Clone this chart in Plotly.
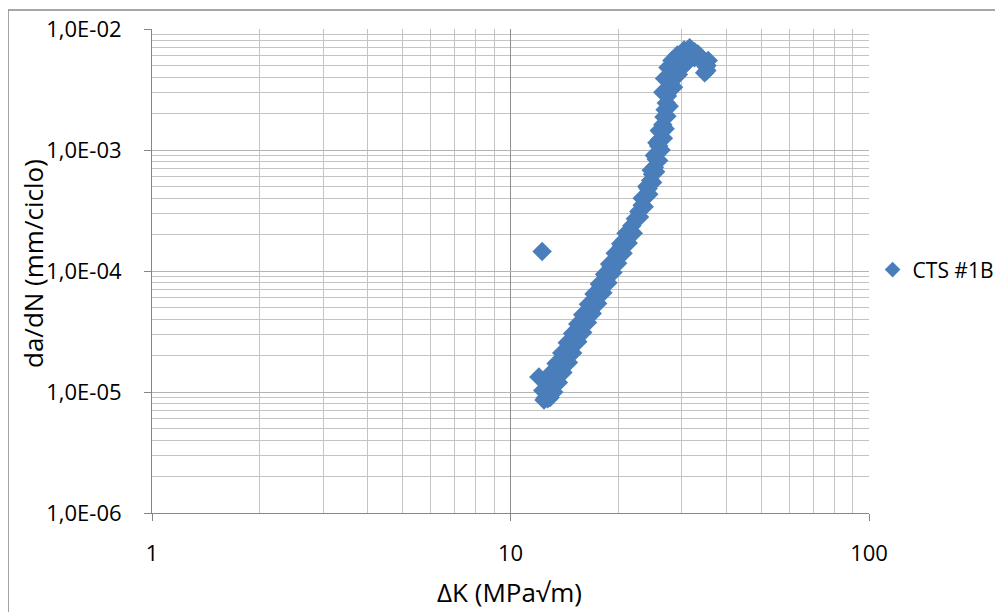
import plotly.graph_objects as go

# ---- data ----
delta_k_a = [12.5, 12.7, 12.9, 13.1, 13.3, 13.5, 13.8, 14.0, 14.3, 14.6, 14.9, 15.2, 15.5, 15.8,
             16.1, 16.4, 16.8, 17.1, 17.5, 17.9, 18.3, 18.7, 19.1, 19.5, 20.0, 20.4, 20.8, 21.3, 21.8]
dadn_a = [8.9e-6, 9.8e-6, 1.07e-5, 1.17e-5, 1.29e-5, 1.40e-5, 1.60e-5, 1.74e-5, 1.97e-5, 2.23e-5,
          2.51e-5, 2.82e-5, 3.17e-5, 3.55e-5, 3.97e-5, 4.43e-5, 5.10e-5, 5.66e-5, 6.49e-5, 7.41e-5,
          8.45e-5, 9.6e-5, 1.09e-4, 1.23e-4, 1.43e-4, 1.60e-4, 1.80e-4, 2.07e-4, 2.37e-4]

delta_k_b = [12.9, 13.2, 13.6, 14.0, 14.5, 14.9, 15.4, 15.9, 16.4, 16.9, 17.5, 18.1, 18.7, 19.3,
             19.9, 20.6, 21.3, 22.0]
dadn_b = [9.0e-6, 1.0e-5, 1.2e-5, 1.45e-5, 1.75e-5, 2.1e-5, 2.6e-5, 3.1e-5, 3.75e-5, 4.45e-5,
          5.4e-5, 6.6e-5, 8.0e-5, 9.7e-5, 1.16e-4, 1.4e-4, 1.7e-4, 2.05e-4]

delta_k_c = [12.3, 12.6, 13.0, 13.4, 13.9, 14.4, 14.9, 15.4, 15.9, 16.5, 17.1, 17.7, 18.3, 18.9,
             19.6, 20.3, 21.0]
dadn_c = [1.03e-5, 1.2e-5, 1.45e-5, 1.72e-5, 2.1e-5, 2.55e-5, 3.05e-5, 3.65e-5, 4.35e-5, 5.3e-5,
          6.45e-5, 7.8e-5, 9.4e-5, 1.14e-4, 1.4e-4, 1.68e-4, 2.05e-4]

delta_k_d = [22.3, 22.8, 23.3, 23.8, 24.2, 24.6, 24.9, 25.2, 25.5, 25.7, 25.9, 26.1, 26.3, 26.6,
             26.8, 27.0, 27.2, 27.4, 27.6, 27.9, 28.2, 28.6, 29.1, 29.7, 30.4, 31.2, 31.9, 32.6,
             33.3, 34.0, 34.6, 35.1, 35.3]
dadn_d = [2.7e-4, 3.1e-4, 3.5e-4, 4.1e-4, 4.8e-4, 5.6e-4, 6.3e-4, 7.2e-4, 8.4e-4, 9.5e-4, 1.08e-3,
          1.22e-3, 1.40e-3, 1.62e-3, 1.87e-3, 2.15e-3, 2.45e-3, 2.8e-3, 3.2e-3, 3.6e-3, 4.05e-3,
          4.5e-3, 5.0e-3, 5.5e-3, 5.9e-3, 6.3e-3, 6.6e-3, 6.5e-3, 6.2e-3, 5.8e-3, 5.35e-3, 4.9e-3,
          4.55e-3]

delta_k_e = [22.9, 23.6, 24.3, 24.9, 25.4, 25.9, 26.3, 26.7, 27.0, 27.3, 27.7, 28.5, 29.4, 30.5,
             31.5, 32.6, 33.6, 34.5, 35.3, 26.6, 26.9, 27.5, 28.2, 29.2, 30.5, 31.6, 33.8, 35.6, 34.8,
             23.3, 24.0, 24.7, 25.2, 25.6, 26.0]
dadn_e = [2.8e-4, 3.4e-4, 4.3e-4, 5.4e-4, 6.6e-4, 8.2e-4, 1.0e-3, 1.25e-3, 1.5e-3, 1.9e-3, 2.3e-3,
          3.3e-3, 4.2e-3, 5.0e-3, 5.6e-3, 5.8e-3, 5.7e-3, 5.4e-3, 5.0e-3, 3.0e-3, 3.9e-3, 4.8e-3,
          5.5e-3, 6.1e-3, 6.7e-3, 7.0e-3, 5.9e-3, 5.5e-3, 4.35e-3,
          4.0e-4, 5.0e-4, 6.8e-4, 9.0e-4, 1.15e-3, 1.45e-3]

delta_k_extra = [12.25, 12.0, 12.4, 12.7]
dadn_extra = [1.45e-4, 1.33e-5, 8.6e-6, 8.8e-6]

delta_k = delta_k_a + delta_k_b + delta_k_c + delta_k_d + delta_k_e + delta_k_extra
dadn = dadn_a + dadn_b + dadn_c + dadn_d + dadn_e + dadn_extra

series_name = "CTS #1B"
x_tick_vals = [1, 10, 100]
x_tick_text = ["1", "10", "100"]
y_tick_vals = [1e-6, 1e-5, 1e-4, 1e-3, 1e-2]
y_tick_text = ["1,0E-06", "1,0E-05", "1,0E-04", "1,0E-03", "1,0E-02"]
x_title = "ΔK (MPa√m)"
y_title = "da/dN (mm/ciclo)"

x_minor = [m * d for d in (1, 10) for m in range(2, 10)]
y_minor = [m * d for d in (1e-6, 1e-5, 1e-4, 1e-3) for m in range(2, 10)]

FONT = "Open Sans"
BLUE = "#4A7EBB"

fig = go.Figure()
fig.add_trace(go.Scatter(
    x=delta_k, y=dadn, mode="markers", name=series_name,
    marker=dict(symbol="diamond", size=15, color=BLUE, line=dict(width=0)),
))

fig.update_layout(
    width=1003, height=612,
    margin=dict(l=144, r=142, t=21, b=107, autoexpand=False),
    paper_bgcolor="white", plot_bgcolor="white",
    font=dict(family=FONT, size=21, color="black"),
    showlegend=True,
    legend=dict(xref="container", yref="container", x=0.862, y=0.572,
                yanchor="middle", xanchor="left",
                font=dict(family=FONT, size=21, color="black"),
                itemsizing="constant", bgcolor="rgba(0,0,0,0)"),
    xaxis=dict(
        type="log", range=[0, 2], tickmode="array", tickvals=x_tick_vals, ticktext=x_tick_text,
        showgrid=True, gridcolor="#8f8f8f", gridwidth=1, automargin=False,
        showline=True, linecolor="#868686", linewidth=1,
        ticks="outside", ticklen=7, tickcolor="#868686", ticklabelstandoff=14,
        minor=dict(tickmode="array", tickvals=x_minor, showgrid=True, gridcolor="#c4c4c4",
                   gridwidth=1, ticks=""),
        zeroline=False, tickfont=dict(size=22),
    ),
    yaxis=dict(
        type="log", range=[-6, -2], tickmode="array", tickvals=y_tick_vals, ticktext=y_tick_text,
        showgrid=True, gridcolor="#b4b4b4", gridwidth=1, automargin=False,
        showline=True, linecolor="#868686", linewidth=1,
        ticks="outside", ticklen=7, tickcolor="#868686", ticklabelstandoff=18,
        minor=dict(tickmode="array", tickvals=y_minor, showgrid=True, gridcolor="#c4c4c4",
                   gridwidth=1, ticks=""),
        zeroline=False, tickfont=dict(size=22),
    ),
    annotations=[
        dict(text=x_title, xref="paper", yref="paper", x=0.499, y=-0.163,
             xanchor="center", yanchor="middle", showarrow=False,
             font=dict(family=FONT, size=26, color="black")),
        dict(text=y_title, xref="paper", yref="paper", x=-0.167, y=0.515,
             xanchor="center", yanchor="middle", showarrow=False, textangle=-90,
             font=dict(family=FONT, size=26, color="black")),
    ],
    shapes=[
        dict(type="rect", xref="paper", yref="paper", x0=-0.2008, x1=1.25, y0=-0.25, y1=1.0393,
             line=dict(color="#8a8a8a", width=1.5), fillcolor="rgba(0,0,0,0)", layer="below"),
    ],
)

fig.write_html("out.html")
